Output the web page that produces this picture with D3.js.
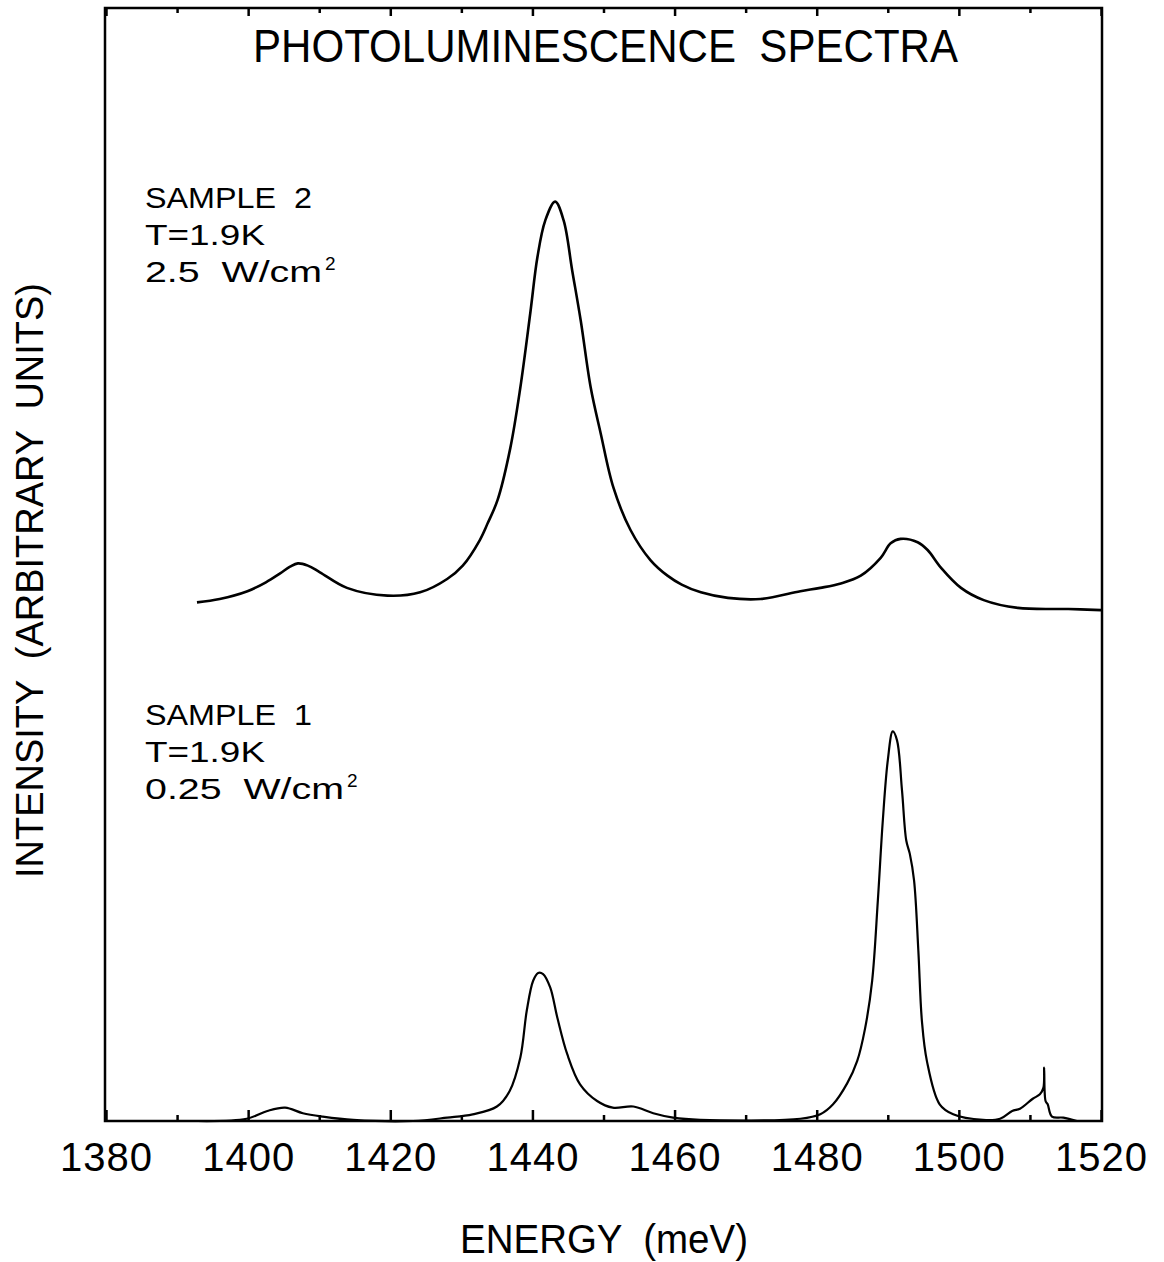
<!DOCTYPE html>
<html>
<head>
<meta charset="utf-8">
<script src="https://cdn.jsdelivr.net/npm/d3@7.9.0/dist/d3.min.js"></script>
<style>
  body { margin: 0; background: #fff; }
  svg text { font-family: "Liberation Sans", Arial, sans-serif; fill: #000; white-space: pre; }
</style>
</head>
<body>
<svg id="chart" width="1164" height="1262"></svg>
<script>
// photoluminescence spectra, values (intensity in arbitrary units, 0-100 frame)
const majorTicks = [1380, 1400, 1420, 1440, 1460, 1480, 1500, 1520];
const minorTicks = [1390, 1410, 1430, 1450, 1470, 1490, 1510];

const sample2Energy = [1392.8, 1396.0, 1399.9, 1402.5, 1404.5, 1405.9, 1407.0, 1408.4, 1410.1, 1413.9, 1419.6, 1424.2,
  1428.0, 1430.2, 1432.6, 1433.7, 1435.1, 1436.9, 1438.3, 1439.7, 1440.7, 1441.8, 1443.2, 1444.4, 1445.6, 1446.8,
  1448.2, 1449.6, 1451.4, 1453.8, 1456.6, 1459.0, 1461.0, 1463.7, 1467.5, 1472.1, 1477.7, 1480.5, 1483.4, 1486.2,
  1489.0, 1490.4, 1491.8, 1494.2, 1495.6, 1497.5, 1500.3, 1503.5, 1508.3, 1515.4, 1520.0];
const sample2Intensity = [46.6, 46.9, 47.6, 48.4, 49.2, 49.8, 50.1, 49.9, 49.3, 47.9, 47.2, 47.5,
  48.7, 49.9, 52.2, 53.7, 55.8, 60.5, 65.9, 72.6, 77.6, 80.9, 82.6, 80.9, 76.4, 71.9,
  65.9, 61.8, 56.9, 53.1, 50.4, 49.0, 48.2, 47.5, 47.0, 46.9, 47.6, 47.9, 48.3, 49.0,
  50.6, 51.9, 52.3, 52.0, 51.3, 49.7, 47.9, 46.8, 46.1, 46.0, 45.9];

const sample1Energy = [1392.9, 1399.8, 1402.7, 1405.2, 1407.7, 1410.5, 1414.8, 1423.2, 1428.0, 1431.6, 1435.0,
  1436.8, 1438.3, 1439.2, 1440.1, 1440.8, 1441.5, 1442.5, 1443.5, 1444.9, 1446.7, 1449.1, 1451.3, 1454.2,
  1457.0, 1459.8, 1463.6, 1477.7, 1480.5, 1482.3, 1484.3, 1485.7, 1486.8, 1487.8, 1488.6, 1489.3, 1490.0,
  1490.7, 1491.3, 1492.0, 1492.6, 1493.1, 1493.7, 1494.3, 1494.8, 1495.5, 1497.3, 1499.2, 1503.4, 1505.8,
  1507.5, 1508.6, 1510.4, 1511.4, 1511.9, 1512.0, 1512.2, 1512.5, 1513.1, 1514.7, 1516.6];
const sample1Intensity = [0, 0.2, 0.9, 1.2, 0.7, 0.4, 0.1, 0, 0.3, 0.6, 1.3,
  2.7, 5.7, 9.9, 12.6, 13.3, 13.2, 12.0, 9.3, 6.0, 3.3, 1.8, 1.2, 1.3,
  0.7, 0.3, 0.1, 0.2, 0.6, 1.5, 3.4, 5.4, 8.3, 12.6, 19.8, 27.0, 32.4,
  35.0, 34.2, 29.7, 25.2, 24.0, 21.6, 15.3, 9.0, 5.4, 1.5, 0.6, 0.1, 0.2,
  0.9, 1.1, 2.0, 2.4, 3.0, 4.8, 1.8, 1.5, 0.4, 0.3, 0];

const svg = d3.select('#chart');
const plotLeft = 106, plotRight = 1101, plotTop = 8, plotBottom = 1121;

const x = d3.scaleLinear().domain([1380, 1520]).range([plotLeft, plotRight]);
const y = d3.scaleLinear().domain([0, 100]).range([plotBottom, plotTop]);

// frame
svg.append('rect')
  .attr('x', plotLeft - 1).attr('y', plotTop)
  .attr('width', plotRight - plotLeft + 2).attr('height', plotBottom - plotTop)
  .attr('fill', 'none').attr('stroke', '#000').attr('stroke-width', 2.5);

// bottom axis (ticks point inward)
const bottomMajor = svg.append('g')
  .attr('transform', `translate(0,${plotBottom})`)
  .call(d3.axisBottom(x).tickValues(majorTicks).tickSizeInner(-11).tickSizeOuter(0).tickPadding(22).tickFormat(d3.format('d')));
const bottomMinor = svg.append('g')
  .attr('transform', `translate(0,${plotBottom})`)
  .call(d3.axisBottom(x).tickValues(minorTicks).tickSizeInner(-6).tickSizeOuter(0).tickFormat(''));
const topMajor = svg.append('g')
  .attr('transform', `translate(0,${plotTop})`)
  .call(d3.axisTop(x).tickValues(majorTicks).tickSizeInner(-8).tickSizeOuter(0).tickFormat(''));
const topMinor = svg.append('g')
  .attr('transform', `translate(0,${plotTop})`)
  .call(d3.axisTop(x).tickValues(minorTicks).tickSizeInner(-5).tickSizeOuter(0).tickFormat(''));

[bottomMajor, bottomMinor, topMajor, topMinor].forEach(g => {
  g.select('.domain').remove();
  g.selectAll('line').attr('stroke', '#000').attr('stroke-width', 2.5);
});
bottomMajor.selectAll('text')
  .attr('font-size', 40)
  .attr('font-family', '"Liberation Sans", Arial, sans-serif')
  .attr('letter-spacing', 1);

// spectra
const line = d3.line()
  .x(d => x(d[0]))
  .y(d => y(d[1]))
  .curve(d3.curveCatmullRom.alpha(0.5));

svg.append('path')
  .datum(d3.zip(sample2Energy, sample2Intensity))
  .attr('d', line)
  .attr('fill', 'none').attr('stroke', '#000').attr('stroke-width', 2.6)
  .attr('stroke-linejoin', 'round');

svg.append('path')
  .datum(d3.zip(sample1Energy, sample1Intensity))
  .attr('d', line)
  .attr('fill', 'none').attr('stroke', '#000').attr('stroke-width', 2.2)
  .attr('stroke-linejoin', 'round');

// titles
svg.append('text')
  .attr('x', 253).attr('y', 62)
  .attr('font-size', 47)
  .attr('textLength', 705).attr('lengthAdjust', 'spacingAndGlyphs')
  .text('PHOTOLUMINESCENCE  SPECTRA');

svg.append('text')
  .attr('x', 460).attr('y', 1253)
  .attr('font-size', 40)
  .attr('textLength', 288).attr('lengthAdjust', 'spacingAndGlyphs')
  .text('ENERGY  (meV)');

svg.append('text')
  .attr('transform', 'translate(43,878) rotate(-90)')
  .attr('font-size', 39)
  .attr('textLength', 595).attr('lengthAdjust', 'spacingAndGlyphs')
  .text('INTENSITY  (ARBITRARY  UNITS)');

// sample annotations
function note(x0, y0, name, power, widths) {
  svg.append('text').attr('x', x0).attr('y', y0).attr('font-size', 29)
    .attr('textLength', widths[0]).attr('lengthAdjust', 'spacingAndGlyphs').text(name);
  svg.append('text').attr('x', x0).attr('y', y0 + 37).attr('font-size', 29)
    .attr('textLength', widths[1]).attr('lengthAdjust', 'spacingAndGlyphs').text('T=1.9K');
  const t = svg.append('text').attr('x', x0).attr('y', y0 + 74).attr('font-size', 29);
  t.append('tspan')
    .attr('textLength', widths[2]).attr('lengthAdjust', 'spacingAndGlyphs')
    .text(power + '  W/cm');
  t.append('tspan').attr('x', x0 + widths[2] + 3).attr('font-size', 19).attr('dy', -12).text('2');
}
note(145, 208, 'SAMPLE  2', '2.5', [167, 120, 177]);
note(145, 725, 'SAMPLE  1', '0.25', [167, 120, 199]);
</script>
</body>
</html>
